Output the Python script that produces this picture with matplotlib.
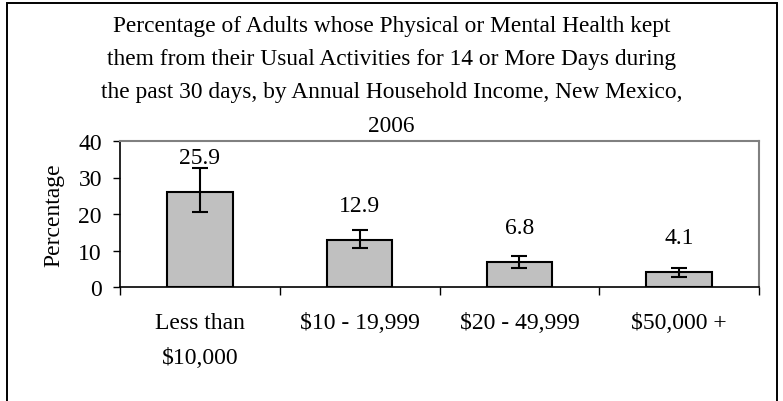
import numpy as np
import matplotlib.pyplot as plt
from matplotlib.patches import Rectangle

categories = ['Less than\n$10,000', '$10 - 19,999', '$20 - 49,999', '$50,000 +']
values = [25.9, 12.9, 6.8, 4.1]
ci_low = [20.5, 10.7, 5.2, 2.8]
ci_high = [32.6, 15.7, 8.4, 5.3]
labels = ['25.9', '12.9', '6.8', '4.1']
title = ('Percentage of Adults whose Physical or Mental Health kept\n'
         'them from their Usual Activities for 14 or More Days during\n'
         'the past 30 days, by Annual Household Income, New Mexico,\n'
         '2006')

plt.rcParams['font.family'] = ['Liberation Serif', 'DejaVu Serif']

fig = plt.figure(figsize=(7.83, 4.02), dpi=100)
# outer chart frame (bottom edge runs off the image)
fig.patches.append(Rectangle((7 / 783, -0.05), 770 / 783, 1.039,
                             transform=fig.transFigure, fill=False,
                             edgecolor='black', linewidth=1.4))

ax = fig.add_axes([120 / 783, 114 / 402, 639 / 783, 146 / 402])
x = np.arange(len(values))
yerr = [np.array(values) - np.array(ci_low), np.array(ci_high) - np.array(values)]
ax.bar(x, values, width=0.41, color='#c0c0c0', edgecolor='black', linewidth=1.5, zorder=2)
ax.errorbar(x, values, yerr=yerr, fmt='none', ecolor='black', elinewidth=1.5,
            capsize=5.8, capthick=1.5, zorder=3)
for xi, v, lab in zip(x, values, labels):
    ax.annotate(lab, (xi, v), xytext=(0, 25), textcoords='offset points',
                ha='center', va='center', fontsize=17)

ax.set_xlim(-0.5, len(values) - 0.5)
ax.set_ylim(0, 40)
ax.set_yticks([0, 10, 20, 30, 40])
ax.set_xticks(x)
ax.set_xticklabels(categories, fontsize=17, linespacing=1.85)
ax.set_xticks(np.arange(len(values) + 1) - 0.5, minor=True)
ax.tick_params(axis='x', which='major', length=0, pad=18)
ax.tick_params(axis='x', which='minor', length=6, width=1, direction='out')
ax.tick_params(axis='y', length=5, width=1, labelsize=17, pad=8)
ax.set_ylabel('Percentage', fontsize=17, labelpad=10)
for s in ['top', 'right']:
    ax.spines[s].set_color('#808080')
    ax.spines[s].set_linewidth(1.5)
for s in ['left', 'bottom']:
    ax.spines[s].set_linewidth(1.2)

fig.text(0.5, 0.96, title, ha='center', va='top', fontsize=16.8, linespacing=1.76)

fig.savefig('out.png', dpi=100)
